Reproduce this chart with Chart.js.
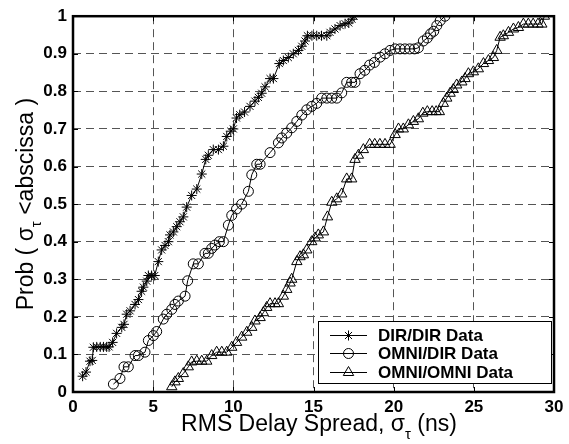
<!DOCTYPE html>
<html lang="en">
<head>
  <meta charset="UTF-8" />
  <title>RMS Delay Spread CDF</title>
  <script src="https://cdn.jsdelivr.net/npm/chart.js"></script>
  <style>
    html, body { margin:0; padding:0; background:#fff; }
    .wrap { width:569px; height:444px; position:relative; }
  </style>
</head>
<body>
<div class="wrap"><canvas id="cdfChart" width="569" height="444"></canvas></div>

<script>
// data
const dirX = [0.6,0.81,1.06,1.2,1.27,1.48,1.7,1.9,2.1,2.25,2.47,2.72,3.04,3.18,3.35,3.56,3.87,4.08,4.28,4.39,4.6,4.7,4.9,5.1,5.32,5.53,5.74,5.95,6.05,6.26,6.47,6.67,6.88,7.09,7.4,7.72,8.03,8.28,8.44,8.75,9.07,9.38,9.59,9.84,10.0,10.2,10.4,10.7,11.04,11.35,11.56,11.77,11.98,12.29,12.5,12.87,13.12,13.43,13.74,14.06,14.27,14.47,14.62,14.9,15.2,15.5,15.83,16.03,16.34,16.66,16.97,17.2,17.4,17.53];
const dirY = [0.042,0.053,0.082,0.084,0.119,0.12,0.12,0.12,0.12,0.12,0.132,0.156,0.172,0.18,0.207,0.216,0.233,0.246,0.268,0.279,0.295,0.31,0.31,0.31,0.347,0.378,0.39,0.4,0.418,0.426,0.44,0.453,0.466,0.492,0.523,0.54,0.58,0.619,0.63,0.645,0.645,0.654,0.68,0.694,0.7,0.729,0.738,0.745,0.76,0.774,0.784,0.795,0.812,0.834,0.834,0.874,0.882,0.89,0.9,0.909,0.92,0.934,0.948,0.948,0.948,0.948,0.948,0.957,0.966,0.975,0.98,0.982,0.992,1.0];

const omniDirX = [2.52,2.93,3.18,3.45,3.87,4.08,4.49,4.7,5.01,5.22,5.63,5.85,6.16,6.36,6.57,6.99,7.15,7.5,7.82,8.23,8.44,8.65,8.86,9.13,9.38,9.69,9.9,10.2,10.52,10.94,11.15,11.46,11.67,12.29,12.81,13.02,13.33,13.64,13.96,14.27,14.58,14.89,15.2,15.51,15.83,16.14,16.45,16.76,17.07,17.38,17.59,17.9,18.2,18.5,18.8,19.15,19.46,19.78,20.09,20.4,20.7,21.0,21.3,21.54,21.85,22.1,22.3,22.5,22.69,22.9,23.2];
const omniDirY = [0.021,0.036,0.067,0.067,0.097,0.097,0.106,0.137,0.15,0.161,0.194,0.207,0.22,0.233,0.242,0.255,0.296,0.341,0.341,0.369,0.369,0.382,0.391,0.4,0.4,0.444,0.47,0.487,0.5,0.534,0.578,0.606,0.606,0.637,0.663,0.676,0.689,0.703,0.72,0.737,0.751,0.76,0.768,0.782,0.782,0.782,0.782,0.796,0.824,0.824,0.824,0.847,0.856,0.87,0.877,0.891,0.9,0.909,0.913,0.913,0.913,0.913,0.913,0.916,0.934,0.942,0.953,0.96,0.975,0.988,1.0];

const omniX = [6.16,6.36,6.57,6.88,7.19,7.4,7.72,8.03,8.34,8.65,8.96,9.28,9.59,9.9,10.2,10.52,10.84,11.15,11.35,11.67,11.87,12.08,12.29,12.6,12.81,13.12,13.33,13.54,13.64,13.96,14.16,14.37,14.58,14.89,15.1,15.3,15.62,15.87,16.14,16.45,16.76,17.07,17.38,17.59,17.8,18.11,18.5,18.82,19.14,19.46,19.78,20.09,20.3,20.6,20.92,21.23,21.54,21.82,22.1,22.4,22.65,22.85,23.1,23.31,23.52,23.72,23.93,24.25,24.45,24.66,24.97,25.28,25.6,25.91,26.22,26.43,26.64,26.84,27.16,27.47,27.78,28.09,28.4,28.7,29.0,29.24,29.4];
const omniY = [0.014,0.027,0.036,0.049,0.067,0.08,0.082,0.082,0.082,0.097,0.106,0.106,0.106,0.119,0.132,0.146,0.159,0.172,0.189,0.198,0.211,0.225,0.235,0.235,0.235,0.255,0.273,0.29,0.3,0.347,0.36,0.365,0.378,0.4,0.41,0.418,0.426,0.466,0.505,0.514,0.527,0.567,0.567,0.619,0.63,0.645,0.659,0.659,0.659,0.659,0.659,0.685,0.7,0.7,0.711,0.72,0.727,0.742,0.746,0.746,0.746,0.746,0.768,0.782,0.795,0.805,0.817,0.825,0.834,0.847,0.852,0.86,0.874,0.882,0.89,0.909,0.944,0.948,0.957,0.966,0.97,0.979,0.979,0.979,0.979,0.979,1.0];

const seriesNames = ['DIR/DIR Data', 'OMNI/DIR Data', 'OMNI/OMNI Data'];
const xTickLabels = ['0','5','10','15','20','25','30'];
const yTickLabels = ['0','0.1','0.2','0.3','0.4','0.5','0.6','0.7','0.8','0.9','1'];

const FONT = "'Liberation Sans', Arial, sans-serif";
const pts = (xs, ys) => xs.map((x, i) => ({x: x, y: ys[i]}));

function makeSet(label, data, style, r){
  return {
    label: label, data: data, showLine: true,
    borderColor: '#000', borderWidth: 1, backgroundColor: 'rgba(0,0,0,0)',
    pointStyle: style, pointRadius: r, pointBorderColor: '#000', pointBorderWidth: 1,
    pointBackgroundColor: 'rgba(0,0,0,0)', tension: 0
  };
}
const sets = [
  makeSet(seriesNames[0], pts(dirX, dirY), 'star', 5),
  makeSet(seriesNames[1], pts(omniDirX, omniDirY), 'circle', 5),
  makeSet(seriesNames[2], pts(omniX, omniY), 'triangle', 6)
];

// draw text with a subscript piece: parts = [[text, isSub], ...]
function partsWidth(ctx, parts, big, small){
  let w = 0;
  parts.forEach(p => { ctx.font = p[1] ? small : big; w += ctx.measureText(p[0]).width; });
  return w;
}
function drawParts(ctx, parts, x, y, big, small, subDy){
  ctx.textAlign = 'left'; ctx.textBaseline = 'alphabetic';
  parts.forEach(p => {
    ctx.font = p[1] ? small : big;
    ctx.fillText(p[0], x, p[1] ? y + subDy : y);
    x += ctx.measureText(p[0]).width;
  });
}

// frame, inward ticks, titles, legend box
const decor = {
  id: 'decor',
  afterDraw(chart){
    const {ctx, chartArea: a, scales: {x, y}} = chart;
    ctx.save();
    ctx.strokeStyle = '#000'; ctx.fillStyle = '#000';

    // inward ticks on all sides
    ctx.lineWidth = 1;
    ctx.beginPath();
    x.ticks.forEach(t => {
      const px = Math.round(x.getPixelForValue(t.value)) + 0.5;
      ctx.moveTo(px, a.bottom); ctx.lineTo(px, a.bottom - 5);
      ctx.moveTo(px, a.top); ctx.lineTo(px, a.top + 5);
    });
    y.ticks.forEach(t => {
      const py = Math.round(y.getPixelForValue(t.value)) + 0.5;
      ctx.moveTo(a.left, py); ctx.lineTo(a.left + 5, py);
      ctx.moveTo(a.right, py); ctx.lineTo(a.right - 5, py);
    });
    ctx.stroke();

    // thick frame
    ctx.lineWidth = 2.5;
    ctx.strokeRect(a.left, a.top, a.right - a.left, a.bottom - a.top);

    // x title
    const big = '23px ' + FONT, small = '15px ' + FONT;
    const xt = [['RMS Delay Spread, \u03c3', false], ['\u03c4', true], [' (ns)', false]];
    const xw = partsWidth(ctx, xt, big, small);
    drawParts(ctx, xt, 319 - xw / 2, 431, big, small, 8);

    // y title (rotated)
    const yt = [['Prob ( \u03c3', false], ['\u03c4', true], [' <abscissa )', false]];
    const yw = partsWidth(ctx, yt, big, small);
    ctx.save();
    ctx.translate(33, (a.top + a.bottom) / 2);
    ctx.rotate(-Math.PI / 2);
    drawParts(ctx, yt, -yw / 2, 0, big, small, 8);
    ctx.restore();

    // legend
    const L = {left: 318, top: 321, right: 551, bottom: 383};
    ctx.fillStyle = '#fff';
    ctx.fillRect(L.left, L.top, L.right - L.left, L.bottom - L.top);
    ctx.lineWidth = 1; ctx.strokeStyle = '#000';
    ctx.strokeRect(L.left + 0.5, L.top + 0.5, L.right - L.left, L.bottom - L.top);
    const rows = [335, 353, 372];
    ctx.font = 'bold 17px ' + FONT;
    ctx.textAlign = 'left'; ctx.textBaseline = 'middle';
    chart.data.datasets.forEach((ds, i) => {
      const ry = rows[i] + 0.5;
      ctx.strokeStyle = '#000'; ctx.lineWidth = 1;
      ctx.beginPath(); ctx.moveTo(330, ry); ctx.lineTo(367, ry); ctx.stroke();
      ctx.fillStyle = 'rgba(0,0,0,0)';
      Chart.helpers.drawPoint(ctx, {pointStyle: ds.pointStyle, radius: ds.pointRadius, borderWidth: 1, rotation: 0}, 348.5, ry);
      ctx.fillStyle = '#000';
      ctx.fillText(ds.label, 378, rows[i] + 1);
    });
    ctx.restore();
  }
};

new Chart(document.getElementById('cdfChart'), {
  type: 'scatter',
  data: {datasets: sets},
  options: {
    responsive: false, animation: false,
    layout: {padding: {top: 12, right: 15, left: 0, bottom: 0}},
    plugins: {legend: {display: false}, tooltip: {enabled: false}},
    scales: {
      x: {
        type: 'linear', min: 0, max: 30,
        afterFit: s => { s.height = 52; },
        afterBuildTicks: s => { s.ticks = xTickLabels.map(v => ({value: Number(v)})); },
        ticks: {
          color: '#000', padding: 5, maxRotation: 0,
          font: {family: FONT, size: 17, weight: 'bold'},
          callback: (v, i) => xTickLabels[i]
        },
        grid: {color: '#555', lineWidth: 1, drawTicks: false},
        border: {display: false, dash: [8, 5]}
      },
      y: {
        type: 'linear', min: 0, max: 1,
        afterFit: s => { s.width = 73; },
        afterBuildTicks: s => { s.ticks = yTickLabels.map(v => ({value: Number(v)})); },
        ticks: {
          color: '#000', padding: 6,
          font: {family: FONT, size: 17, weight: 'bold'},
          callback: (v, i) => yTickLabels[i]
        },
        grid: {color: '#555', lineWidth: 1, drawTicks: false},
        border: {display: false, dash: [8, 5]}
      }
    }
  },
  plugins: [decor]
});
</script>
</body>
</html>
